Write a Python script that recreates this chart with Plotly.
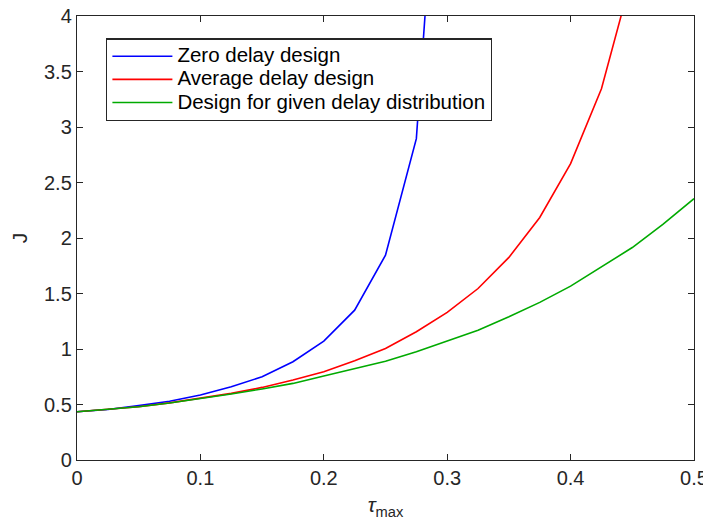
import plotly.graph_objects as go

tau = [0.0, 0.025, 0.05, 0.075, 0.1, 0.125, 0.15, 0.175, 0.2, 0.225, 0.25,
       0.275, 0.3, 0.325, 0.35, 0.375, 0.4, 0.425, 0.45, 0.475, 0.5]

tau_zero = tau[:13]
J_zero = [0.435, 0.455, 0.49, 0.53, 0.585, 0.66, 0.75, 0.885, 1.071, 1.35,
          1.845, 2.895, 6.84]

tau_avg = tau[:19]
J_avg = [0.435, 0.455, 0.48, 0.515, 0.555, 0.60, 0.654, 0.72, 0.795, 0.894,
         1.005, 1.155, 1.33, 1.545, 1.825, 2.185, 2.67, 3.345, 4.375]

J_dist = [0.435, 0.455, 0.48, 0.513, 0.553, 0.594, 0.64, 0.69, 0.756, 0.825,
          0.89, 0.975, 1.071, 1.17, 1.29, 1.42, 1.566, 1.74, 1.914, 2.125, 2.355]

names = ["Zero delay design", "Average delay design",
         "Design for given delay distribution"]
colors = ["#0000ff", "#ff0000", "#00aa00"]

x_ticks = [0, 0.1, 0.2, 0.3, 0.4, 0.5]
x_tick_text = ["0", "0.1", "0.2", "0.3", "0.4", "0.5"]
y_ticks = [0, 0.5, 1, 1.5, 2, 2.5, 3, 3.5, 4]
y_tick_text = ["0", "0.5", "1", "1.5", "2", "2.5", "3", "3.5", "4"]

FONT = "Liberation Sans, Arial, Helvetica"
INK = "#262626"

fig = go.Figure()
for xs, ys, n, c in zip([tau_zero, tau_avg, tau], [J_zero, J_avg, J_dist], names, colors):
    fig.add_trace(go.Scatter(x=xs, y=ys, mode="lines",
                             name='<span style="font-size:20.5px">' + n + "</span>",
                             line=dict(color=c, width=1.6)))

axis_common = dict(showgrid=False, zeroline=False, showline=True, linecolor=INK,
                   linewidth=1.4, mirror="ticks", ticks="inside", ticklen=6,
                   tickcolor=INK, tickwidth=1.2, automargin=False,
                   ticklabeloverflow="allow",
                   tickfont=dict(size=20, color=INK, family=FONT))

fig.update_xaxes(range=[0, 0.5], tickvals=x_ticks, ticktext=x_tick_text,
                 title=dict(text="<i>τ</i><sub>max</sub>", standoff=9,
                            font=dict(size=21, color=INK, family=FONT)),
                 **axis_common)
fig.update_yaxes(range=[0, 4], tickvals=y_ticks, ticktext=y_tick_text,
                 title=dict(text="J", standoff=20,
                            font=dict(size=21, color=INK, family=FONT)),
                 **axis_common)

# page body has an 8px margin; size the figure so the axes land where the reference has them
fig.update_layout(
    template="none",
    width=703, height=519,
    margin=dict(l=69, r=17, t=8, b=67),
    plot_bgcolor="white", paper_bgcolor="white",
    showlegend=True,
    legend=dict(x=0.047, y=0.95, xanchor="left", yanchor="top",
                bgcolor="white", bordercolor=INK, borderwidth=1.4,
                font=dict(size=15.5, color="#000000", family=FONT),
                tracegroupgap=0, itemwidth=60),
)

fig.write_html("out.html")
